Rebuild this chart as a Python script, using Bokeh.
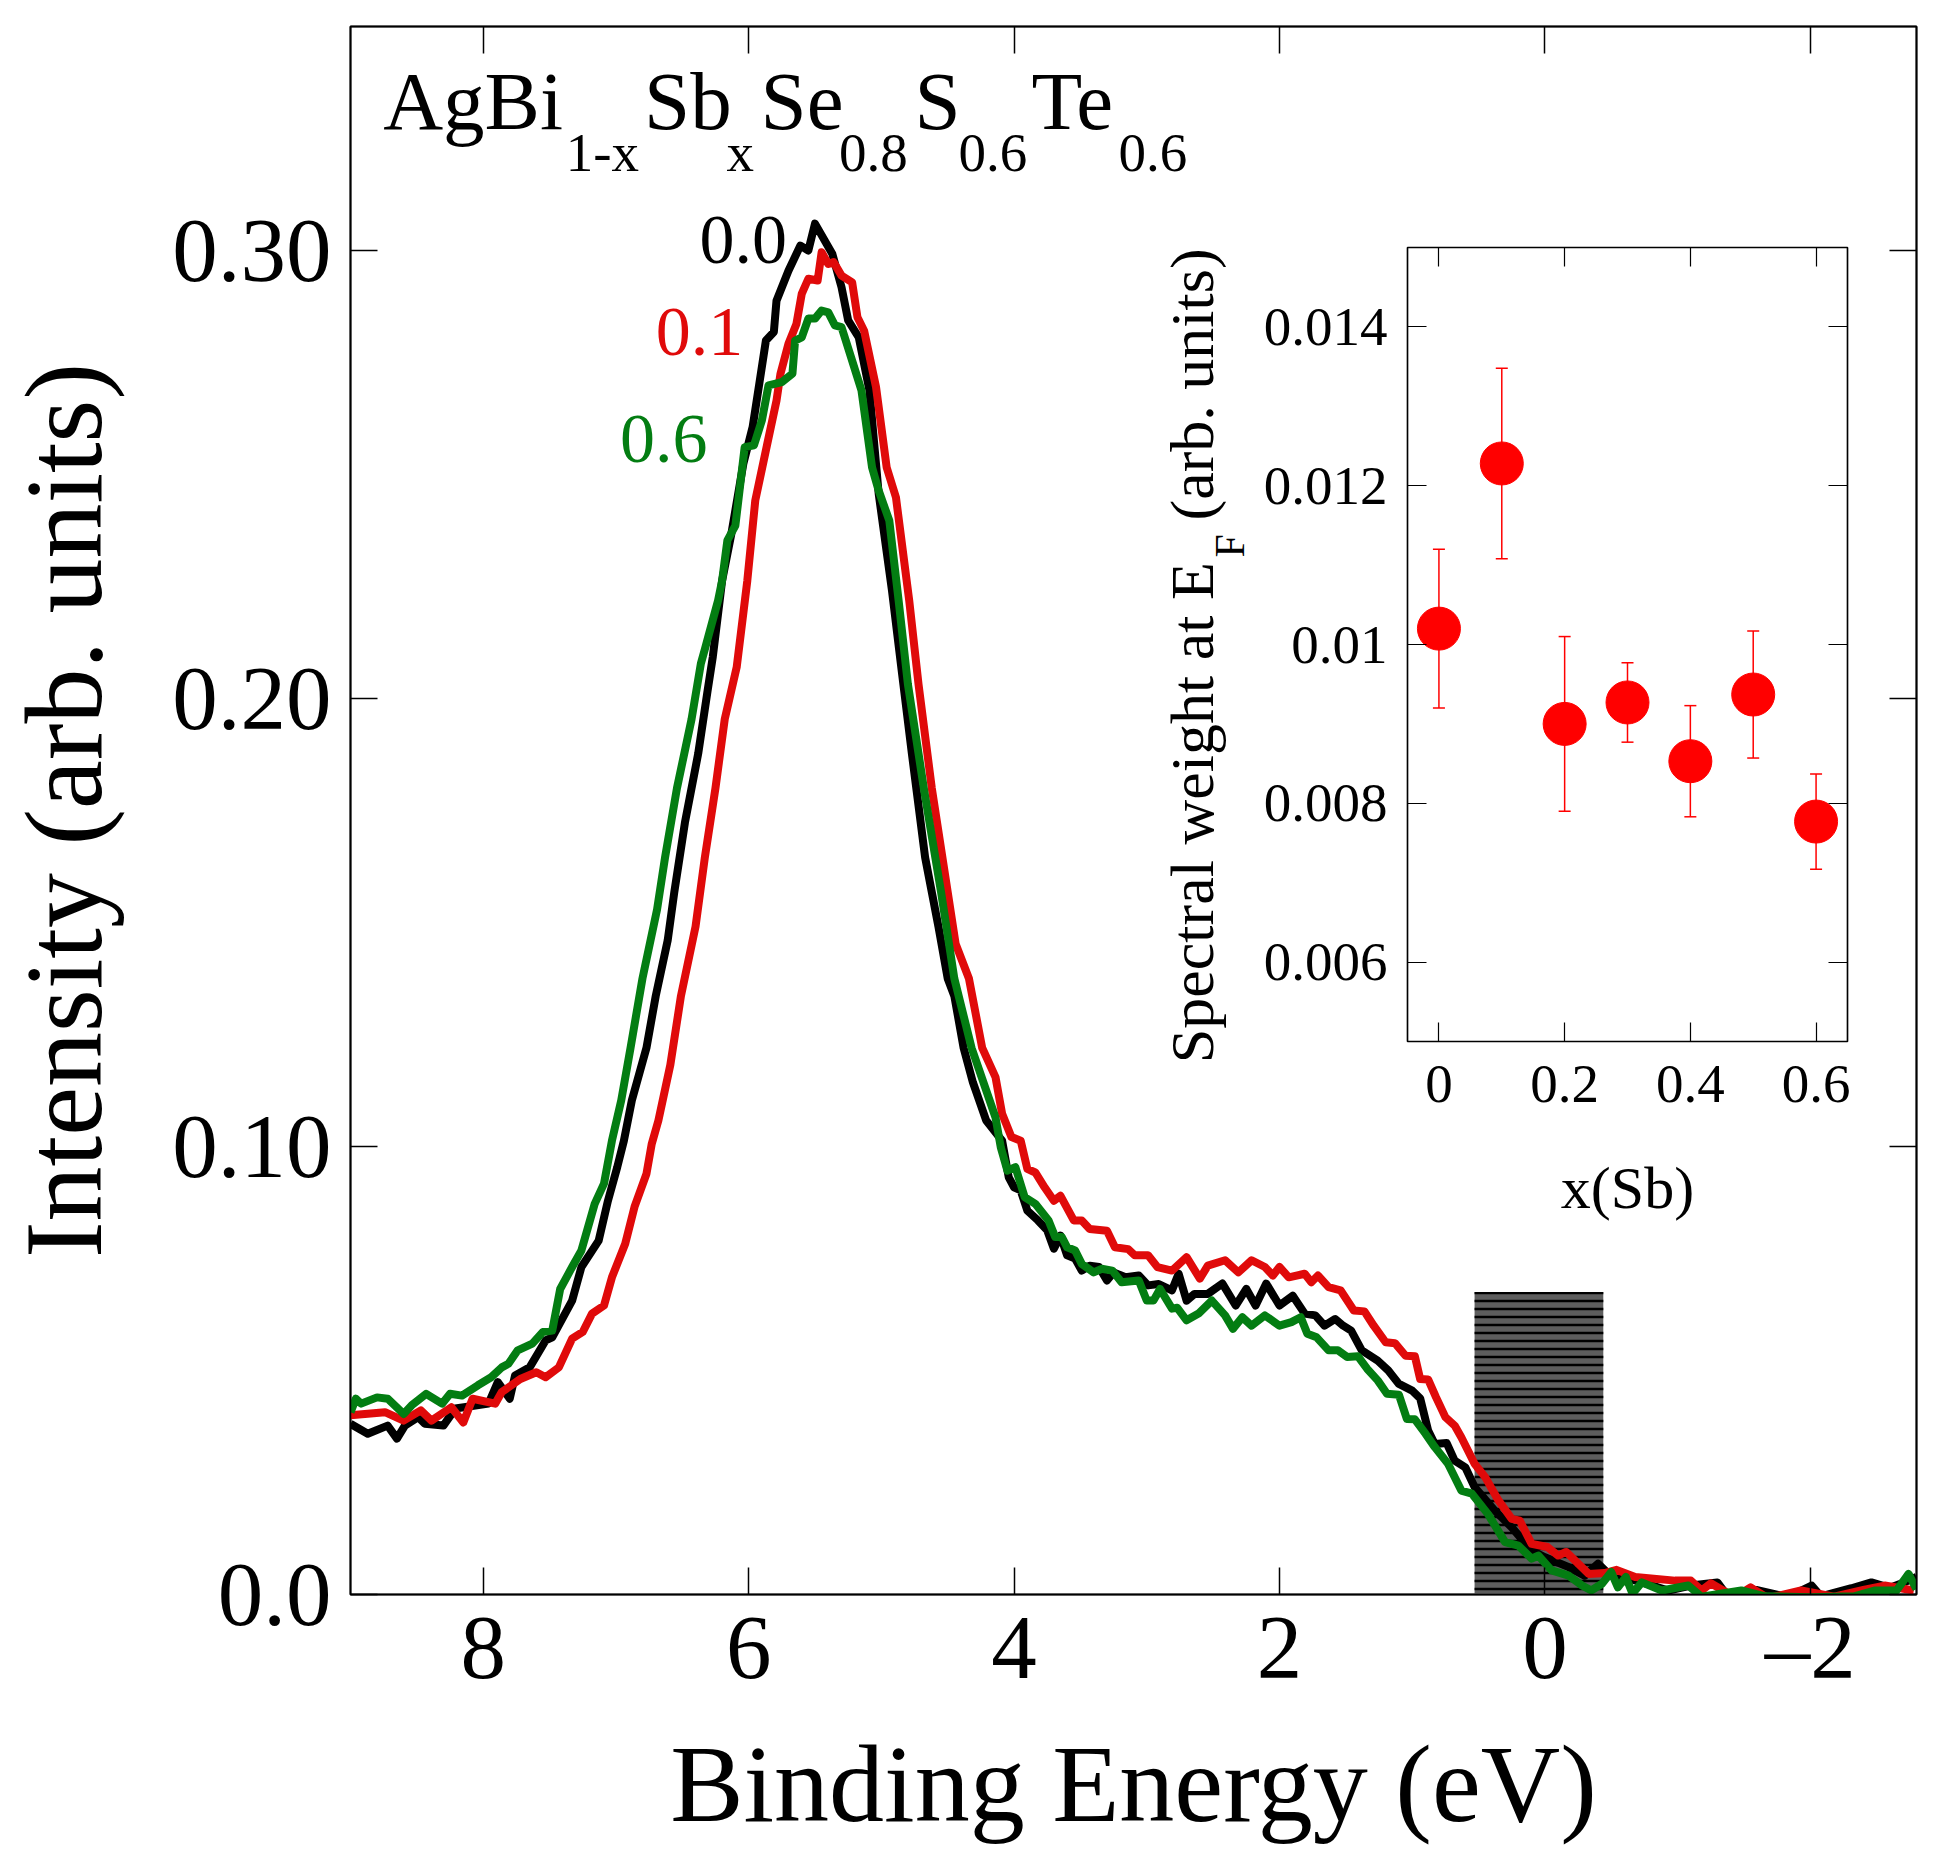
import math
from bokeh.plotting import figure
from bokeh.models import Range1d, LinearAxis, FixedTicker, Label
from bokeh.embed import file_html
from bokeh.resources import INLINE

FONT = "Liberation Serif"

# ---------------- main spectra (binding energy in eV, intensity arb. units) -------------
e_x00 = [9.00, 8.87, 8.72, 8.65, 8.59, 8.49, 8.44, 8.30, 8.21, 7.96, 7.89, 7.80, 7.76, 7.65,
         7.53, 7.48, 7.33, 7.26, 7.13, 7.06, 6.99, 6.94, 6.88, 6.77, 6.70, 6.61, 6.56, 6.48,
         6.38, 6.31, 6.27, 6.20, 6.13, 6.04, 5.97, 5.92, 5.87, 5.81, 5.79, 5.70, 5.61, 5.55,
         5.50, 5.37, 5.30, 5.25, 5.17, 5.09, 5.02, 4.92, 4.85, 4.77, 4.72, 4.67, 4.62, 4.57,
         4.50, 4.45, 4.38, 4.31, 4.21, 4.14, 4.09, 4.04, 4.00, 3.95, 3.90, 3.82, 3.75, 3.70,
         3.65, 3.60, 3.54, 3.49, 3.43, 3.36, 3.30, 3.25, 3.16, 3.06, 2.99, 2.91, 2.81, 2.76,
         2.70, 2.64, 2.54, 2.43, 2.33, 2.25, 2.18, 2.10, 2.00, 1.90, 1.81, 1.73, 1.66, 1.58,
         1.52, 1.46, 1.38, 1.26, 1.18, 1.10, 1.00, 0.94, 0.88, 0.83, 0.74, 0.68, 0.60, 0.53,
         0.38, 0.25, 0.10, 0.00, -0.18, -0.30, -0.40, -0.48, -0.70, -0.93, -1.10, -1.30,
         -1.38, -1.60, -1.83, -2.01, -2.08, -2.31, -2.46, -2.60, -2.68, -2.80]
i_x00 = [0.0381, 0.0359, 0.0377, 0.0348, 0.0377, 0.0396, 0.0381, 0.0377, 0.0415, 0.0426,
         0.0474, 0.0437, 0.0489, 0.0507, 0.0567, 0.0574, 0.0656, 0.0731, 0.0790, 0.0879,
         0.0954, 0.1013, 0.1103, 0.1220, 0.1336, 0.1460, 0.1568, 0.1723, 0.1877, 0.2016,
         0.2093, 0.2263, 0.2368, 0.2524, 0.2606, 0.2702, 0.2799, 0.2818, 0.2888, 0.2955,
         0.3011, 0.3000, 0.3060, 0.2993, 0.2918, 0.2844, 0.2806, 0.2688, 0.2457, 0.2241,
         0.2070, 0.1877, 0.1761, 0.1645, 0.1568, 0.1491, 0.1375, 0.1336, 0.1220, 0.1143,
         0.1058, 0.1032, 0.1013, 0.0931, 0.0909, 0.0902, 0.0857, 0.0835, 0.0813, 0.0772,
         0.0801, 0.0757, 0.0750, 0.0723, 0.0734, 0.0731, 0.0701, 0.0719, 0.0708, 0.0712,
         0.0690, 0.0693, 0.0679, 0.0716, 0.0656, 0.0671, 0.0671, 0.0694, 0.0645, 0.0682,
         0.0645, 0.0694, 0.0645, 0.0667, 0.0627, 0.0623, 0.0600, 0.0615, 0.0600, 0.0589,
         0.0545, 0.0522, 0.0500, 0.0470, 0.0455, 0.0438, 0.0366, 0.0336, 0.0338, 0.0299,
         0.0284, 0.0240, 0.0188, 0.0150, 0.0098, 0.0083, 0.0061, 0.0042, 0.0069, 0.0046,
         0.0030, 0.0009, 0.0020, 0.0027, -0.0005, 0.0010, -0.0006, 0.0020, -0.0004, 0.0014,
         0.0027, 0.0015, 0.0024, 0.0039]

e_x01 = [9.00, 8.74, 8.60, 8.47, 8.39, 8.24, 8.15, 8.08, 7.91, 7.86, 7.72, 7.60, 7.53, 7.43,
         7.33, 7.25, 7.18, 7.09, 7.03, 6.93, 6.86, 6.77, 6.73, 6.68, 6.59, 6.51, 6.40, 6.33,
         6.25, 6.18, 6.09, 6.01, 5.95, 5.87, 5.79, 5.76, 5.70, 5.64, 5.60, 5.55, 5.48, 5.45,
         5.40, 5.36, 5.30, 5.22, 5.18, 5.13, 5.04, 4.96, 4.89, 4.79, 4.72, 4.62, 4.50, 4.44,
         4.34, 4.24, 4.14, 4.09, 4.02, 3.95, 3.90, 3.84, 3.77, 3.70, 3.65, 3.55, 3.49, 3.43,
         3.30, 3.24, 3.14, 3.09, 2.99, 2.92, 2.81, 2.70, 2.60, 2.54, 2.41, 2.31, 2.21, 2.11,
         2.05, 2.00, 1.93, 1.81, 1.76, 1.71, 1.63, 1.54, 1.44, 1.36, 1.29, 1.20, 1.13, 1.05,
         0.98, 0.94, 0.88, 0.82, 0.75, 0.68, 0.63, 0.53, 0.45, 0.35, 0.25, 0.19, 0.10, -0.02,
         -0.10, -0.16, -0.33, -0.45, -0.54, -0.68, -0.98, -1.10, -1.18, -1.25, -1.43, -1.55,
         -1.68, -1.93, -2.18, -2.40, -2.56, -2.78]
i_x01 = [0.0400, 0.0407, 0.0388, 0.0411, 0.0388, 0.0418, 0.0384, 0.0437, 0.0426, 0.0452,
         0.0481, 0.0496, 0.0485, 0.0507, 0.0571, 0.0586, 0.0627, 0.0645, 0.0708, 0.0783,
         0.0865, 0.0939, 0.1006, 0.1058, 0.1182, 0.1336, 0.1491, 0.1645, 0.1800, 0.1954,
         0.2070, 0.2263, 0.2442, 0.2554, 0.2665, 0.2725, 0.2792, 0.2836, 0.2903, 0.2937,
         0.2933, 0.2996, 0.2970, 0.2974, 0.2944, 0.2929, 0.2851, 0.2821, 0.2695, 0.2516,
         0.2449, 0.2219, 0.2032, 0.1800, 0.1568, 0.1452, 0.1375, 0.1220, 0.1155, 0.1073,
         0.1021, 0.1013, 0.0950, 0.0942, 0.0909, 0.0879, 0.0890, 0.0835, 0.0835, 0.0816,
         0.0812, 0.0775, 0.0771, 0.0757, 0.0757, 0.0731, 0.0723, 0.0753, 0.0705, 0.0734,
         0.0746, 0.0719, 0.0746, 0.0731, 0.0712, 0.0731, 0.0708, 0.0716, 0.0697, 0.0712,
         0.0686, 0.0679, 0.0634, 0.0632, 0.0600, 0.0563, 0.0561, 0.0533, 0.0532, 0.0481,
         0.0480, 0.0440, 0.0396, 0.0377, 0.0351, 0.0292, 0.0262, 0.0210, 0.0169, 0.0165,
         0.0113, 0.0106, 0.0087, 0.0095, 0.0046, 0.0048, 0.0055, 0.0039, 0.0031, 0.0031,
         0.0009, 0.0025, -0.0006, 0.0016, -0.0008, 0.0009, -0.0005, 0.0010, 0.0020, 0.0009]

e_x06 = [9.00, 8.96, 8.92, 8.80, 8.72, 8.60, 8.54, 8.43, 8.31, 8.25, 8.16, 8.04, 7.94, 7.86,
         7.81, 7.74, 7.63, 7.55, 7.48, 7.42, 7.33, 7.26, 7.16, 7.09, 7.03, 6.96, 6.89, 6.80,
         6.69, 6.63, 6.54, 6.43, 6.36, 6.33, 6.23, 6.20, 6.16, 6.10, 6.03, 5.96, 5.90, 5.85,
         5.75, 5.67, 5.65, 5.60, 5.55, 5.50, 5.45, 5.40, 5.35, 5.30, 5.22, 5.15, 5.07, 5.02,
         4.94, 4.87, 4.80, 4.68, 4.55, 4.45, 4.32, 4.14, 4.10, 4.05, 3.99, 3.92, 3.84, 3.74,
         3.69, 3.64, 3.60, 3.54, 3.49, 3.40, 3.34, 3.26, 3.19, 3.06, 3.00, 2.95, 2.90, 2.81,
         2.77, 2.70, 2.61, 2.51, 2.41, 2.35, 2.28, 2.21, 2.11, 2.00, 1.91, 1.84, 1.79, 1.72,
         1.63, 1.56, 1.49, 1.41, 1.34, 1.26, 1.19, 1.10, 1.04, 0.98, 0.90, 0.83, 0.73, 0.63,
         0.55, 0.43, 0.30, 0.20, 0.10, 0.05, -0.05, -0.18, -0.28, -0.35, -0.43, -0.50, -0.55,
         -0.61, -0.66, -0.73, -0.88, -1.08, -1.18, -1.48, -1.66, -2.00, -2.33, -2.49, -2.65,
         -2.74, -2.80]
i_x06 = [0.0407, 0.0437, 0.0426, 0.0440, 0.0437, 0.0403, 0.0422, 0.0448, 0.0426, 0.0448,
         0.0444, 0.0467, 0.0485, 0.0507, 0.0515, 0.0545, 0.0560, 0.0586, 0.0589, 0.0682,
         0.0731, 0.0768, 0.0872, 0.0917, 0.1013, 0.1103, 0.1220, 0.1375, 0.1529, 0.1645,
         0.1800, 0.1954, 0.2078, 0.2110, 0.2219, 0.2263, 0.2353, 0.2386, 0.2561, 0.2565,
         0.2621, 0.2699, 0.2706, 0.2725, 0.2799, 0.2806, 0.2848, 0.2848, 0.2866, 0.2862,
         0.2833, 0.2829, 0.2754, 0.2688, 0.2516, 0.2464, 0.2397, 0.2219, 0.2032, 0.1800,
         0.1568, 0.1375, 0.1220, 0.1065, 0.0998, 0.0946, 0.0954, 0.0887, 0.0872, 0.0835,
         0.0798, 0.0798, 0.0775, 0.0768, 0.0738, 0.0719, 0.0727, 0.0723, 0.0697, 0.0701,
         0.0656, 0.0656, 0.0682, 0.0638, 0.0640, 0.0612, 0.0627, 0.0656, 0.0623, 0.0593,
         0.0619, 0.0600, 0.0623, 0.0600, 0.0608, 0.0619, 0.0582, 0.0574, 0.0545, 0.0545,
         0.0530, 0.0532, 0.0504, 0.0478, 0.0448, 0.0446, 0.0392, 0.0391, 0.0359, 0.0329,
         0.0292, 0.0232, 0.0225, 0.0180, 0.0117, 0.0109, 0.0080, 0.0087, 0.0054, 0.0042,
         0.0020, 0.0009, 0.0024, 0.0050, 0.0016, 0.0039, 0.0002, 0.0027, 0.0009, 0.0020,
         -0.0005, 0.0009, -0.0004, -0.0006, -0.0004, 0.0009, 0.0009, 0.0046, 0.0012]

series_labels = ["0.0", "0.1", "0.6"]
series_colors = ["#000000", "#e00a0a", "#037d12"]

x_ticks = [8, 6, 4, 2, 0, -2]
y_ticks = [0.0, 0.10, 0.20, 0.30]
y_tick_labels = ["0.0", "0.10", "0.20", "0.30"]

ef_window = [0.53, -0.44]     # integration window around E_F (eV)
ef_window_top = 0.0675

# ---------------- inset: spectral weight at E_F ----------------
x_sb = [0.0, 0.1, 0.2, 0.3, 0.4, 0.5, 0.6]
weight_ef = [0.01020, 0.01228, 0.00900, 0.00927, 0.00853, 0.00937, 0.00777]
weight_err = [0.00100, 0.00120, 0.00110, 0.00050, 0.00070, 0.00080, 0.00060]
inset_x_ticks = [0.0, 0.2, 0.4, 0.6]
inset_x_labels = ["0", "0.2", "0.4", "0.6"]
inset_y_ticks = [0.006, 0.008, 0.010, 0.012, 0.014]
inset_y_labels = ["0.006", "0.008", "0.01", "0.012", "0.014"]

# ================= main figure =================
p = figure(x_range=Range1d(9.0, -2.8), y_range=Range1d(0.0, 0.35),
           frame_width=1566, frame_height=1568,
           min_border_left=348, min_border_right=14, min_border_top=26, min_border_bottom=256,
           output_backend="svg", toolbar_location=None)
p.xgrid.visible = False
p.ygrid.visible = False
p.outline_line_color = "black"
p.outline_line_width = 2
p.background_fill_color = "white"
p.border_fill_color = "white"


def style_axis(ax, ticks, tick_len, lw, label_size=None):
    ax.ticker = FixedTicker(ticks=ticks)
    ax.major_tick_in = tick_len
    ax.major_tick_out = 0
    ax.minor_tick_in = 0
    ax.minor_tick_out = 0
    ax.major_tick_line_color = "black"
    ax.major_tick_line_width = lw
    ax.axis_line_color = "black"
    ax.axis_line_width = lw
    ax.major_label_text_font = FONT
    ax.major_label_text_color = "black"
    ax.axis_label_text_font = FONT
    ax.axis_label_text_font_style = "normal"
    ax.axis_label_text_color = "black"
    if label_size is None:
        # tick marks only (mirror axis): no tick labels
        ax.major_label_overrides = {t: "" for t in ticks}
        ax.major_label_text_font_size = "1px"
        ax.major_label_standoff = 0
    else:
        ax.major_label_text_font_size = label_size


xa = p.xaxis[0]
style_axis(xa, x_ticks, 27, 1.5, "91px")
xa.major_label_overrides = {-2: "\u20132"}
xa.major_label_standoff = 2
xa.axis_label = "Binding Energy (eV)"
xa.axis_label_text_font_size = "110px"
xa.axis_label_standoff = 22

ya = p.yaxis[0]
style_axis(ya, y_ticks, 27, 1.5, "91px")
ya.major_label_overrides = {t: s for t, s in zip(y_ticks, y_tick_labels)}
ya.major_label_standoff = 19
ya.axis_label = "Intensity (arb. units)"
ya.axis_label_text_font_size = "110px"
ya.axis_label_standoff = 44

ra = LinearAxis()
style_axis(ra, y_ticks, 27, 1.5)
p.add_layout(ra, "right")
ta = LinearAxis()
style_axis(ta, x_ticks, 27, 1.5)
p.add_layout(ta, "above")

# E_F window box
p.quad(left=[ef_window[0]], right=[ef_window[1]], bottom=[0.0], top=[ef_window_top],
       fill_color="#5e5e5e", line_color=None,
       hatch_pattern="horizontal_line", hatch_color="black", hatch_scale=8, hatch_weight=2.5)

for e, i, c in [(e_x00, i_x00, series_colors[0]),
                (e_x01, i_x01, series_colors[1]),
                (e_x06, i_x06, series_colors[2])]:
    p.line(e, i, line_color=c, line_width=8, line_join="round")

# series labels
for txt, c, (lx, ly) in zip(series_labels, series_colors,
                            [(6.37, 0.3023), (6.70, 0.2819), (6.97, 0.2580)]):
    p.add_layout(Label(x=lx, y=ly, text=txt, text_color=c, text_font=FONT,
                       text_font_size="70px", text_baseline="alphabetic", text_align="left"))

# compound formula with subscripts
formula = [("AgBi", 8.754, False), ("1-x", 7.379, True), ("Sb", 6.788, False),
           ("x", 6.166, True), ("Se", 5.910, False), ("0.8", 5.319, True),
           ("S", 4.750, False), ("0.6", 4.419, True), ("Te", 3.869, False),
           ("0.6", 3.213, True)]
for txt, fx, sub in formula:
    p.add_layout(Label(x=fx, y=0.3218 if sub else 0.3333, text=txt, text_color="black",
                       text_font=FONT, text_font_size="55px" if sub else "83px",
                       text_baseline="alphabetic", text_align="left"))

# inset y-axis title (rotated, with subscript F)
p.add_layout(Label(x=2.659, y=0.11859, text="Spectral weight at E", angle=math.pi / 2,
                   text_font=FONT, text_font_size="62px", text_color="black",
                   text_baseline="alphabetic", text_align="left"))
p.add_layout(Label(x=2.371, y=0.23147, text="F", angle=math.pi / 2,
                   text_font=FONT, text_font_size="42px", text_color="black",
                   text_baseline="alphabetic", text_align="left"))
p.add_layout(Label(x=2.659, y=0.23973, text="(arb. units)", angle=math.pi / 2,
                   text_font=FONT, text_font_size="62px", text_color="black",
                   text_baseline="alphabetic", text_align="left"))

# ================= inset figure =================
ins = figure(x_range=Range1d(-0.05, 0.65), y_range=Range1d(0.005, 0.015),
             frame_width=440, frame_height=794,
             min_border_left=160, min_border_right=10, min_border_top=10, min_border_bottom=250,
             output_backend="svg", toolbar_location=None)
ins.background_fill_color = None
ins.border_fill_color = None
ins.outline_line_color = "black"
ins.outline_line_width = 1.5
ins.xgrid.visible = False
ins.ygrid.visible = False
ins.styles = {"position": "absolute", "left": "1247px", "top": "237px"}

ixa = ins.xaxis[0]
style_axis(ixa, inset_x_ticks, 19, 1.2, "55px")
ixa.major_label_overrides = {t: s for t, s in zip(inset_x_ticks, inset_x_labels)}
ixa.major_label_standoff = 24
ixa.axis_label = "x(Sb)"
ixa.axis_label_text_font_size = "60px"
ixa.axis_label_standoff = 50

iya = ins.yaxis[0]
style_axis(iya, inset_y_ticks, 19, 1.2, "55px")
iya.major_label_overrides = {t: s for t, s in zip(inset_y_ticks, inset_y_labels)}
iya.major_label_standoff = 20

ira = LinearAxis()
style_axis(ira, inset_y_ticks, 19, 1.2)
ins.add_layout(ira, "right")
ita = LinearAxis()
style_axis(ita, inset_x_ticks, 19, 1.2)
ins.add_layout(ita, "above")

lo = [w - e for w, e in zip(weight_ef, weight_err)]
hi = [w + e for w, e in zip(weight_ef, weight_err)]
ins.segment(x0=x_sb, y0=lo, x1=x_sb, y1=hi, line_color="#ff0000", line_width=1.5)
ins.scatter(x_sb, hi, marker="dash", size=12, line_color="#ff0000", line_width=1.5)
ins.scatter(x_sb, lo, marker="dash", size=12, line_color="#ff0000", line_width=1.5)
ins.scatter(x_sb, weight_ef, marker="circle", size=43, fill_color="#ff0000",
            line_color="#ff0000")

html = file_html([p, ins], INLINE, title="AgBi1-xSbxSe0.8S0.6Te0.6 valence band")
with open("out.html", "w") as f:
    f.write(html)
